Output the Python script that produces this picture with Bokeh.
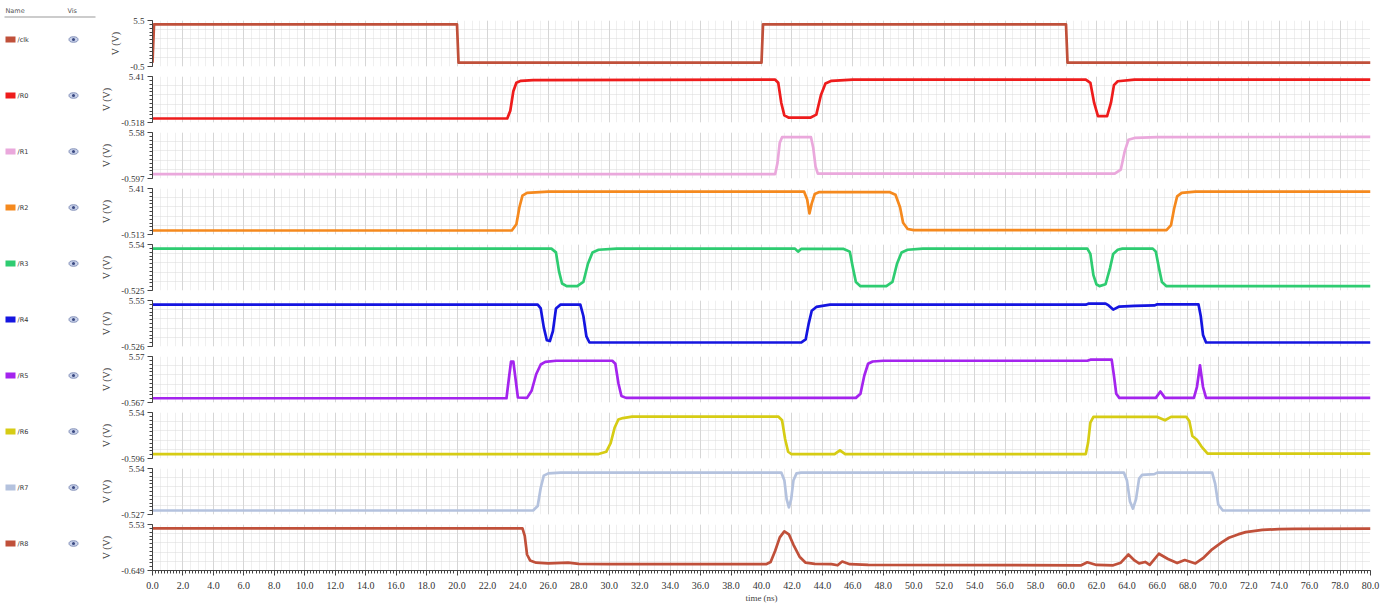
import numpy as np
from bokeh.plotting import figure
from bokeh.layouts import row, column
from bokeh.models import (Range1d, FixedTicker, SingleIntervalTicker,
                          CustomJSTickFormatter, PrintfTickFormatter)
from bokeh.core.properties import value
from bokeh.embed import file_html
from bokeh.resources import INLINE

# ---------------- data ----------------
names = ["/clk", "/R0", "/R1", "/R2", "/R3", "/R4", "/R5", "/R6", "/R7", "/R8"]
colors = ["#c0503a", "#ee1c1c", "#eaa8dc", "#f5891e", "#2ecc71",
          "#1515e0", "#a424ee", "#d6cc14", "#b4c2de", "#c0503a"]
y_top = [5.5, 5.41, 5.58, 5.41, 5.54, 5.55, 5.57, 5.54, 5.54, 5.53]
y_bot = [-0.5, -0.518, -0.597, -0.513, -0.525, -0.526, -0.567, -0.596, -0.527, -0.649]

clk_t = [0, 0.1, 20.0, 20.1, 40.0, 40.1, 60.0, 60.1, 80]
clk_v = [0, 5.0, 5.0, 0, 0, 5.0, 5.0, 0, 0]

r0_t = [0, 23.3, 23.5, 23.7, 23.9, 24.2, 25.0, 40.9, 41.1, 41.3, 41.5, 41.8, 43.2, 43.6,
        43.9, 44.2, 44.6, 46.0, 61.3, 61.6, 61.85, 62.1, 62.7, 62.95, 63.15, 63.4, 64.5, 80]
r0_v = [0, 0, 1.0, 3.5, 4.6, 4.85, 4.95, 5.0, 4.6, 2.0, 0.4, 0.1, 0.1, 0.5,
        3.0, 4.5, 4.85, 5.0, 5.0, 4.6, 2.0, 0.3, 0.3, 2.0, 4.3, 4.8, 5.0, 5.0]

r1_t = [0, 40.9, 41.05, 41.2, 41.35, 43.25, 43.4, 43.55, 43.7, 63.2, 63.6, 63.85, 64.1, 64.5, 66.0, 80]
r1_v = [0, 0, 1.5, 4.2, 4.95, 4.95, 3.5, 1.0, 0.05, 0.05, 0.6, 3.0, 4.6, 4.85, 4.95, 5.0]

r2_t = [0, 23.6, 23.9, 24.1, 24.3, 24.6, 26.0, 42.8, 43.0, 43.15, 43.3, 43.5, 43.8, 48.4,
        48.8, 49.1, 49.3, 49.6, 50.0, 66.6, 66.9, 67.1, 67.3, 67.6, 68.5, 80]
r2_v = [0, 0, 0.8, 3.0, 4.5, 4.85, 5.0, 5.0, 4.0, 2.2, 3.5, 4.7, 4.95, 4.95,
        4.6, 3.0, 1.0, 0.2, 0.05, 0.05, 0.7, 2.8, 4.4, 4.85, 5.0, 5.0]

r3_t = [0, 26.2, 26.5, 26.7, 26.9, 27.2, 27.9, 28.3, 28.6, 28.9, 29.3, 30.5, 42.2, 42.4,
        42.6, 45.4, 45.8, 46.0, 46.2, 46.5, 48.2, 48.6, 48.9, 49.2, 49.6, 50.6, 61.4, 61.6,
        61.8, 62.0, 62.2, 62.6, 62.9, 63.1, 63.4, 63.7, 65.7, 65.9, 66.1, 66.3, 66.6, 80]
r3_v = [5.0, 5.0, 4.5, 2.0, 0.4, 0.05, 0.05, 0.6, 3.0, 4.5, 4.85, 5.0, 5.0, 4.6,
        4.95, 4.95, 4.6, 2.5, 0.6, 0.05, 0.05, 0.6, 3.0, 4.5, 4.85, 5.0, 5.0, 4.3,
        1.5, 0.3, 0.05, 0.3, 2.5, 4.3, 4.85, 5.0, 5.0, 4.6, 2.5, 0.6, 0.05, 0.05]

r4_t = [0, 25.3, 25.5, 25.7, 25.9, 26.1, 26.3, 26.5, 26.8, 28.1, 28.3, 28.5, 28.7, 42.6,
        42.9, 43.1, 43.3, 43.6, 44.5, 61.3, 61.5, 62.6, 62.8, 63.1, 63.5, 64.5, 65.8, 66.0,
        68.7, 68.85, 69.0, 69.2, 80]
r4_v = [5.0, 5.0, 4.5, 2.0, 0.3, 0.2, 1.5, 4.5, 5.0, 5.0, 3.5, 0.8, 0.0, 0.0,
        0.4, 2.5, 4.2, 4.7, 5.0, 5.0, 5.15, 5.15, 4.9, 4.35, 4.75, 4.85, 4.9, 5.05,
        5.05, 3.5, 1.0, 0.0, 0.0]

r5_t = [0, 23.25, 23.4, 23.55, 23.7, 23.85, 24.0, 24.6, 24.9, 25.2, 25.5, 25.8, 26.5, 30.2,
        30.4, 30.6, 30.8, 31.1, 46.2, 46.5, 46.75, 47.0, 47.3, 48.0, 61.4, 61.6, 63.0, 63.15,
        63.3, 63.5, 65.9, 66.2, 66.5, 68.4, 68.6, 68.8, 69.0, 69.2, 80]
r5_v = [0, 0, 2.5, 4.9, 4.9, 2.5, 0.1, 0.05, 1.0, 3.2, 4.5, 4.85, 5.0, 5.0,
        4.6, 2.0, 0.3, 0.05, 0.05, 0.6, 3.0, 4.6, 4.9, 5.0, 5.0, 5.15, 5.15, 3.0,
        0.6, 0.05, 0.05, 0.9, 0.05, 0.05, 1.5, 4.4, 1.5, 0.05, 0.05]

r6_t = [0, 29.3, 29.8, 30.1, 30.35, 30.6, 30.9, 31.5, 41.1, 41.35, 41.55, 41.75, 41.95, 44.8,
        45.15, 45.5, 61.3, 61.45, 61.6, 61.8, 66.0, 66.5, 66.9, 67.9, 68.1, 68.3, 68.6, 68.9,
        69.3, 80]
r6_v = [0, 0, 0.3, 1.5, 3.5, 4.6, 4.8, 5.0, 5.0, 4.5, 2.0, 0.3, 0.0, 0.0,
        0.5, 0.0, 0.0, 1.5, 4.2, 4.95, 4.95, 4.5, 4.95, 4.95, 4.4, 2.4, 1.9, 1.0,
        0.05, 0.05]

r7_t = [0, 25.0, 25.3, 25.5, 25.7, 26.0, 26.8, 41.3, 41.5, 41.65, 41.8, 41.95, 42.1, 42.3,
        42.6, 63.8, 64.0, 64.2, 64.4, 64.6, 64.8, 65.0, 65.8, 66.0, 69.6, 69.8, 70.0, 70.3, 80]
r7_v = [0, 0, 0.6, 3.0, 4.6, 4.9, 5.0, 5.0, 4.0, 1.5, 0.4, 1.5, 4.0, 4.9,
        5.0, 5.0, 4.0, 1.2, 0.25, 1.5, 4.2, 4.7, 4.8, 5.0, 5.0, 3.5, 0.8, 0.0, 0.0]

r8_t = [0, 24.3, 24.45, 24.6, 24.8, 25.2, 26.0, 27.3, 28.0, 30.0, 40.3, 40.6, 40.9, 41.2,
        41.5, 41.8, 42.1, 42.5, 42.9, 43.5, 44.6, 45.0, 45.3, 45.8, 47.0, 61.0, 61.4, 62.0,
        63.1, 63.6, 64.1, 64.5, 64.8, 65.2, 65.5, 66.1, 66.7, 67.3, 67.8, 68.5, 69.0, 69.6,
        70.2, 70.7, 71.3, 71.8, 72.9, 74.0, 75.0, 80]
r8_v = [5.0, 5.0, 4.0, 1.5, 0.7, 0.4, 0.3, 0.4, 0.25, 0.2, 0.2, 0.5, 2.0, 3.8,
        4.6, 4.2, 2.8, 1.2, 0.4, 0.25, 0.2, 0.05, 0.55, 0.2, 0.1, 0.05, 0.45, 0.1,
        0.05, 0.4, 1.5, 0.7, 0.3, 0.5, 0.1, 1.6, 0.9, 0.35, 0.75, 0.3, 1.0, 2.2,
        3.1, 3.75, 4.2, 4.5, 4.8, 4.92, 4.95, 4.97]

series_t = [clk_t, r0_t, r1_t, r2_t, r3_t, r4_t, r5_t, r6_t, r7_t, r8_t]
series_v = [clk_v, r0_v, r1_v, r2_v, r3_v, r4_v, r5_v, r6_v, r7_v, r8_v]
x_start, x_end = 0, 80

# ---------------- layout constants ----------------
SERIF = "Liberation Serif"
SANS = "DejaVu Sans"
LEG_W = 96
BORDER_L = 56
BORDER_R = 10
PANEL_W = 1370 + BORDER_R - LEG_W
FRAME_H = 46
GAP_TOP = 5
GAP_BOT = 5
FIRST_TOP = 20
LAST_BOT = 35
AX_COLOR = "#444444"

xr = Range1d(x_start, x_end)
n = len(names)
panels = []
frame_tops = []
y_cursor = 0
for i in range(n):
    first, last = i == 0, i == n - 1
    top = FIRST_TOP if first else GAP_TOP
    bot = LAST_BOT if last else GAP_BOT
    h = top + FRAME_H + bot
    frame_tops.append(y_cursor + top)
    y_cursor += h
    lo, hi = y_bot[i], y_top[i]
    p = figure(width=PANEL_W, height=h, x_range=xr, y_range=Range1d(lo, hi),
               output_backend="svg", toolbar_location=None,
               min_border_left=BORDER_L, min_border_right=BORDER_R,
               min_border_top=top, min_border_bottom=bot,
               x_axis_location="below" if last else None,
               background_fill_color="white", border_fill_color="white",
               outline_line_color=None)
    # grids
    p.xgrid.ticker = SingleIntervalTicker(interval=2, num_minor_ticks=4)
    p.xgrid.grid_line_color = "#d6d6d6"
    p.xgrid.minor_grid_line_color = "#efefef"
    p.ygrid.ticker = FixedTicker(ticks=list(np.linspace(lo, hi, 6)))
    p.ygrid.grid_line_color = "#d8d8d8"
    p.ygrid.grid_line_dash = "1 1"
    # y axis
    ya = p.yaxis[0]
    ya.ticker = FixedTicker(ticks=[lo, hi], minor_ticks=list(np.linspace(lo, hi, 13)))
    ya.formatter = CustomJSTickFormatter(code="return tick.toString()")
    ya.axis_label = "V (V)"
    ya.axis_label_text_font = SERIF
    ya.axis_label_text_font_size = "10px"
    ya.axis_label_text_font_style = "normal"
    ya.axis_label_text_color = AX_COLOR
    ya.axis_label_standoff = 6
    ya.major_label_text_font = SERIF
    ya.major_label_text_font_size = "9px"
    ya.major_label_text_color = "#333333"
    ya.major_label_standoff = 3
    ya.axis_line_color = AX_COLOR
    ya.major_tick_line_color = AX_COLOR
    ya.minor_tick_line_color = AX_COLOR
    ya.major_tick_out = 5
    ya.major_tick_in = 0
    ya.minor_tick_out = 3
    ya.minor_tick_in = 0
    if last:
        xa = p.xaxis[0]
        xa.ticker = SingleIntervalTicker(interval=2, num_minor_ticks=10)
        xa.formatter = PrintfTickFormatter(format="%.1f")
        xa.axis_label = "time (ns)"
        xa.axis_label_text_font = SERIF
        xa.axis_label_text_font_size = "9px"
        xa.axis_label_text_font_style = "normal"
        xa.axis_label_text_color = AX_COLOR
        xa.axis_label_standoff = 1
        xa.major_label_text_font = SERIF
        xa.major_label_text_font_size = "10px"
        xa.major_label_text_color = "#333333"
        xa.major_label_standoff = 6
        xa.axis_line_color = AX_COLOR
        xa.major_tick_line_color = AX_COLOR
        xa.minor_tick_line_color = AX_COLOR
        xa.major_tick_out = 5
        xa.major_tick_in = 0
        xa.minor_tick_out = 3
        xa.minor_tick_in = 0
    p.line(series_t[i], series_v[i], line_color=colors[i], line_width=2.7,
           line_join="round")
    panels.append(p)

total_h = y_cursor

# ---------------- legend / name panel ----------------
leg = figure(width=LEG_W, height=total_h, x_range=Range1d(0, LEG_W),
             y_range=Range1d(total_h, 0), output_backend="svg",
             toolbar_location=None, min_border=0, x_axis_location=None,
             y_axis_location=None, outline_line_color=None,
             background_fill_color="white", border_fill_color="white")
leg.xgrid.visible = False
leg.ygrid.visible = False

leg.text(x=[5, 67], y=[10, 10], text=["Name", "Vis"], text_font=value(SANS),
         text_font_size="6.5px", text_color="#555555", text_baseline="middle")
leg.segment(x0=[4], y0=[16.5], x1=[95], y1=[16.5], line_color="#999999", line_width=1)

row_y = [ft + 19 for ft in frame_tops]
leg.rect(x=[10] * n, y=row_y, width=10, height=6, fill_color=colors, line_color=None)
leg.text(x=[17] * n, y=row_y, text=names, text_font=value(SANS),
         text_font_size="6.5px", text_color="#333333", text_baseline="middle")
leg.ellipse(x=[73] * n, y=row_y, width=9, height=5.5, fill_color="#c9d2ea",
            line_color="#6a78a8", line_width=0.8)
leg.scatter(x=[73] * n, y=row_y, size=3, fill_color="#3b4a82", line_color=None)

layout = row(leg, column(*panels))
open("out.html", "w").write(file_html(layout, INLINE))
